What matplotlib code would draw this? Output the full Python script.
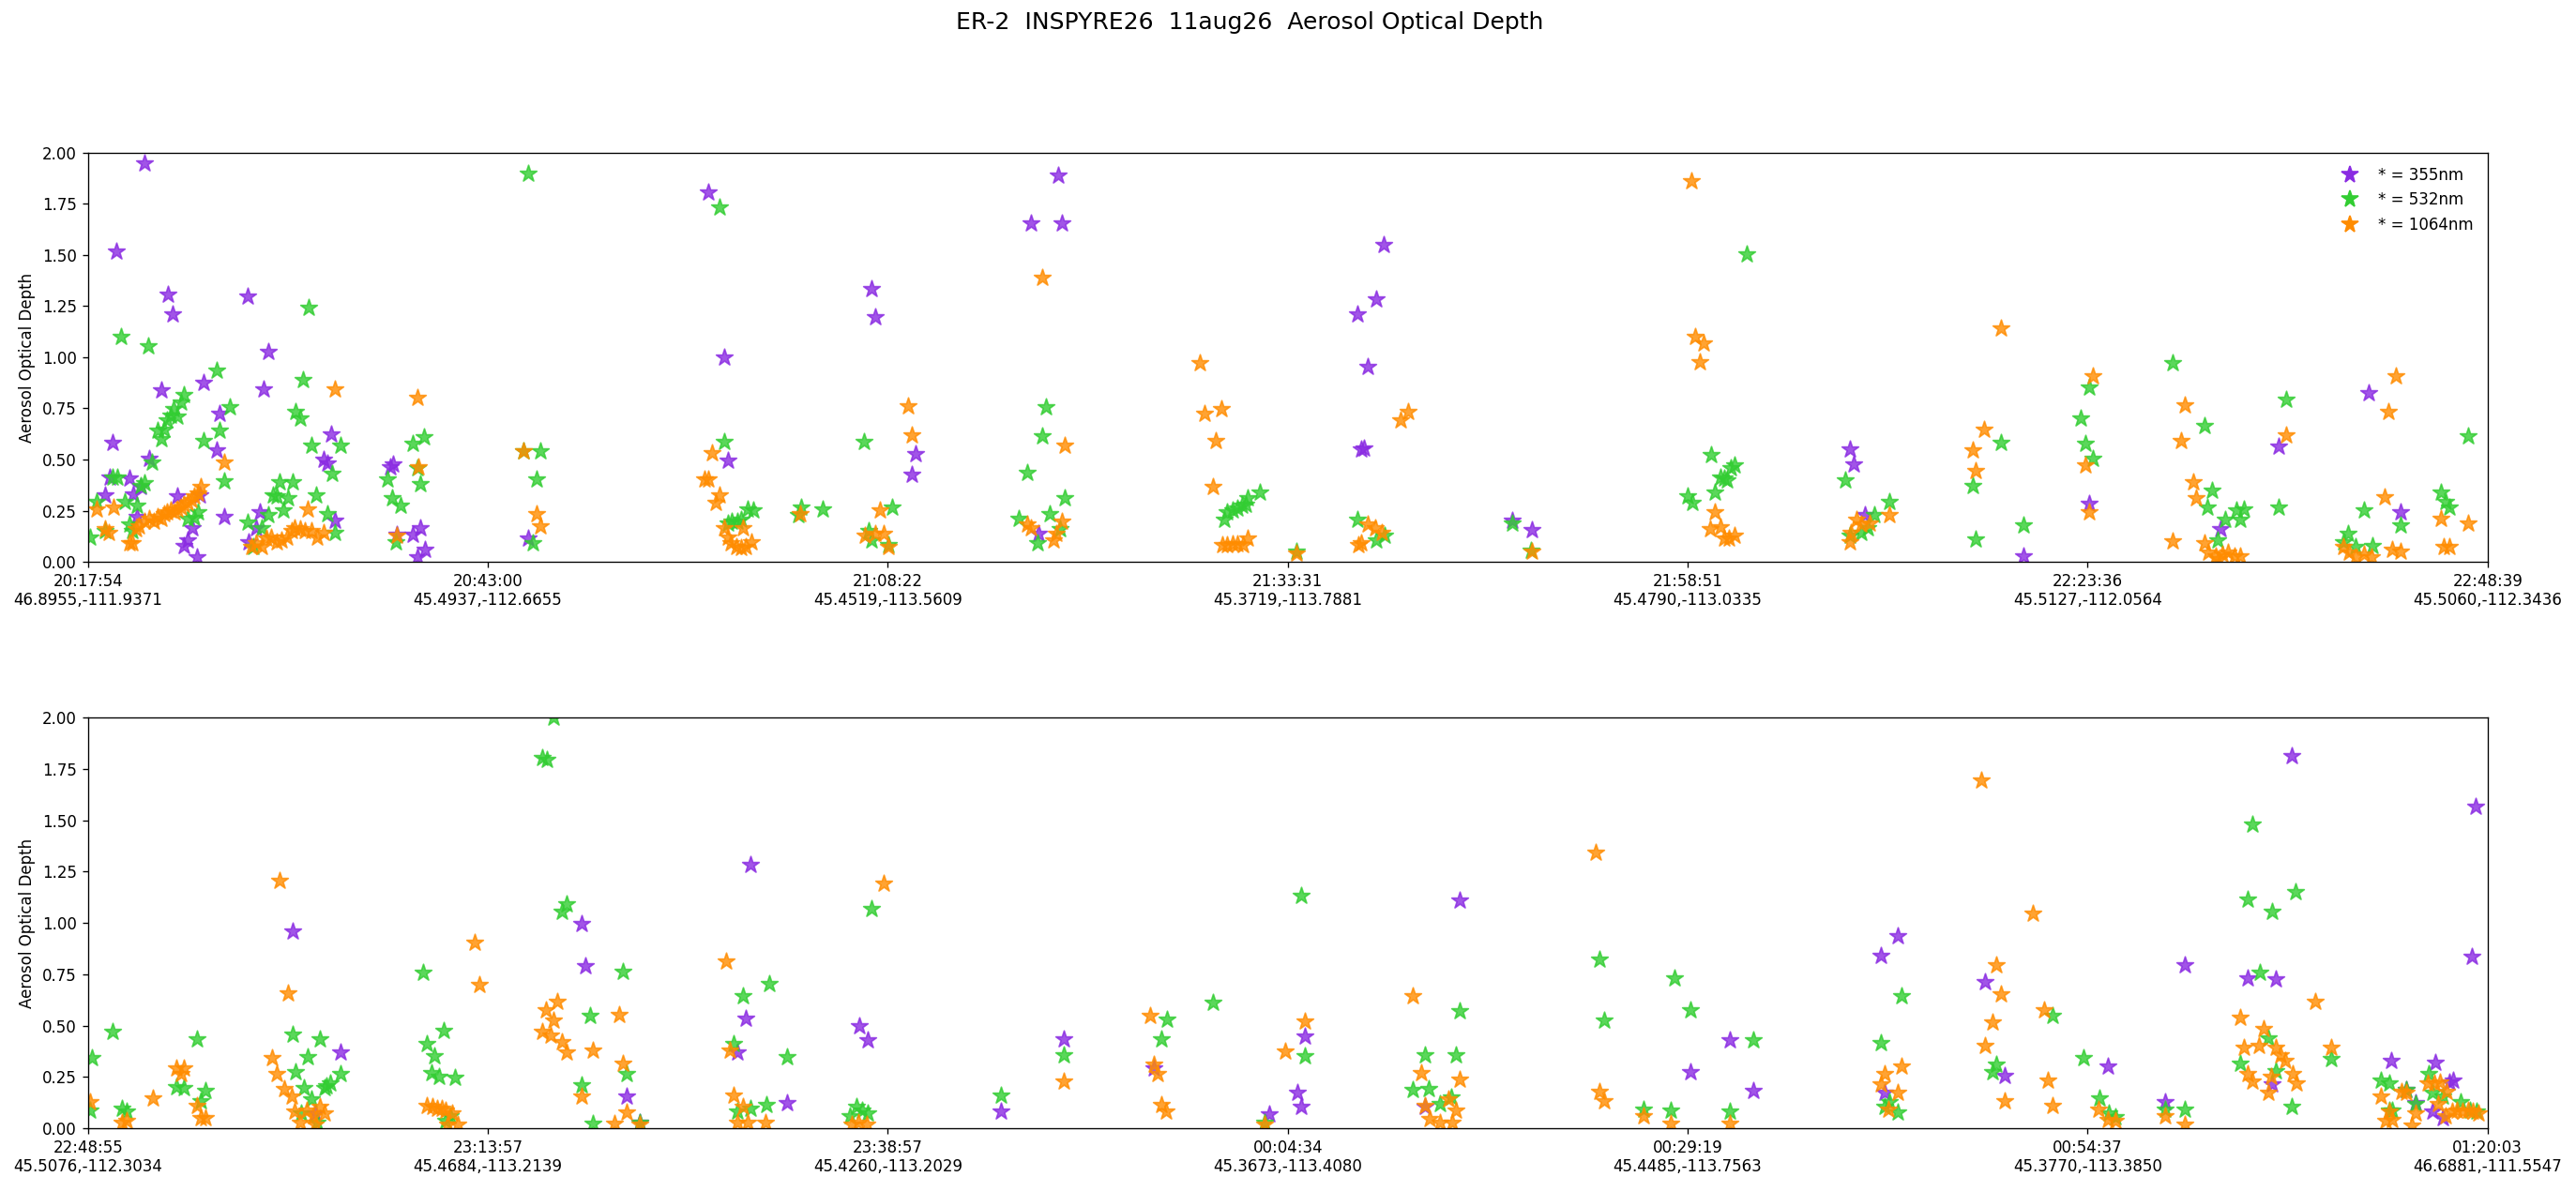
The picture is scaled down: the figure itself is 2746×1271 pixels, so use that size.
import matplotlib
matplotlib.use("Agg")
import matplotlib.pyplot as plt
from matplotlib.lines import Line2D
from matplotlib.ticker import FormatStrFormatter
import numpy as np

# ---------------- data ----------------
title = "ER-2  INSPYRE26  11aug26  Aerosol Optical Depth"
ylabel = "Aerosol Optical Depth"
wavelengths = ["355", "532", "1064"]
legend_labels = ["* = 355nm", "* = 532nm", "* = 1064nm"]
series_colors = ["#8A2BE2", "#32CD32", "#FF8C00"]

# x = record position along the flight segment (ticks every 100 records)
tick_records = [0, 100, 200, 300, 400, 500, 600]
top_tick_labels = [
    "20:17:54\n46.8955,-111.9371", "20:43:00\n45.4937,-112.6655",
    "21:08:22\n45.4519,-113.5609", "21:33:31\n45.3719,-113.7881",
    "21:58:51\n45.4790,-113.0335", "22:23:36\n45.5127,-112.0564",
    "22:48:39\n45.5060,-112.3436"]
bottom_tick_labels = [
    "22:48:55\n45.5076,-112.3034", "23:13:57\n45.4684,-113.2139",
    "23:38:57\n45.4260,-113.2029", "00:04:34\n45.3673,-113.4080",
    "00:29:19\n45.4485,-113.7563", "00:54:37\n45.3770,-113.3850",
    "01:20:03\n46.6881,-111.5547"]
aod_ticks = [0.0, 0.25, 0.5, 0.75, 1.0, 1.25, 1.5, 1.75, 2.0]

# (record, AOD) pairs
top_355 = [(14.2,1.951),(7.2,1.519),(20.1,1.308),(21.3,1.212),(40.0,1.300),(45.0,1.027),(44.0,0.842),(18.3,0.839),
    (29.0,0.877),(32.9,0.727),(6.3,0.582),(32.1,0.544),(15.3,0.506),(60.8,0.625),(59.0,0.500),(59.9,0.480),(5.4,0.411),
    (10.3,0.406),(4.3,0.327),(11.4,0.332),(13.2,0.365),(22.3,0.319),(28.1,0.327),(34.2,0.220),(12.2,0.220),(26.2,0.167),
    (25.0,0.105),(24.0,0.078),(27.3,0.024),(43.0,0.243),(42.1,0.167),(40.2,0.098),(61.8,0.200),(75.5,0.464),(76.2,0.475),
    (77.3,0.133),(81.2,0.133),(83.2,0.167),(84.3,0.060),(82.3,0.021),
    (110.0,0.113),(155.0,1.809),(159.0,1.002),(160.0,0.495),(196.0,1.334),(196.8,1.195),(207.0,0.526),(206.0,0.426),
    (242.5,1.890),(235.9,1.656),(243.5,1.656),(237.6,0.139),(324.1,1.552),(322.2,1.285),(317.4,1.213),(320.1,0.956),
    (318.4,0.549),(319.1,0.556),(356.1,0.200),(361.0,0.154),
    (440.6,0.549),(441.5,0.475),(444.2,0.228),(483.9,0.029),
    (500.4,0.284),(533.1,0.159),(547.7,0.564),(570.3,0.824),(578.2,0.243)]

top_532 = [(8.2,1.102),(15.2,1.053),(55.1,1.244),(32.1,0.934),(53.9,0.888),(24.0,0.816),(23.3,0.778),(21.4,0.747),
    (20.8,0.717),(22.3,0.709),(19.9,0.694),(35.4,0.755),(51.9,0.735),(53.0,0.704),(17.4,0.640),(19.1,0.648),(18.3,0.602),
    (32.9,0.640),(29.0,0.590),(55.9,0.571),(63.1,0.567),(16.0,0.487),(61.0,0.429),(34.2,0.396),(6.1,0.411),(7.4,0.411),
    (14.1,0.385),(13.2,0.373),(48.0,0.388),(51.1,0.388),(46.3,0.327),(47.2,0.322),(50.1,0.312),(57.0,0.327),(48.8,0.254),
    (60.0,0.235),(2.3,0.292),(9.2,0.292),(12.2,0.277),(27.5,0.243),(25.0,0.212),(26.5,0.215),(40.0,0.194),(45.1,0.231),
    (43.4,0.167),(10.3,0.185),(11.1,0.151),(0.5,0.118),(4.4,0.151),(61.8,0.144),(75.0,0.403),(76.0,0.312),(78.1,0.273),
    (81.2,0.579),(84.0,0.610),(82.3,0.457),(83.2,0.380),(77.1,0.098),(41.3,0.075),
    (110.1,1.901),(113.1,0.541),(108.9,0.541),(112.2,0.403),(111.2,0.090),(158.0,1.733),(159.0,0.587),(160.0,0.189),
    (161.0,0.197),(162.5,0.197),(163.3,0.205),(165.0,0.258),(166.3,0.251),(178.4,0.266),(177.6,0.228),(183.8,0.258),
    (194.1,0.587),(201.0,0.266),(195.2,0.151),(196.0,0.105),(200.2,0.083),(232.8,0.212),(234.9,0.434),
    (239.5,0.758),(238.5,0.613),(244.3,0.312),(240.4,0.235),(237.4,0.090),(243.1,0.159),(284.1,0.205),(284.9,0.243),
    (286.2,0.254),(287.3,0.261),(288.5,0.273),(289.4,0.281),(290.0,0.312),(293.1,0.338),(302.1,0.052),(317.4,0.205),
    (322.2,0.105),(324.3,0.128),(356.1,0.189),
    (360.9,0.055),(414.8,1.503),(405.9,0.521),(411.6,0.472),(410.7,0.457),(408.1,0.411),(409.1,0.408),(409.9,0.399),
    (406.8,0.338),(400.0,0.322),(401.1,0.289),(439.4,0.399),(450.5,0.292),(446.6,0.228),(445.1,0.167),(440.5,0.128),
    (443.4,0.144),(471.2,0.373),(478.3,0.584),(472.1,0.108),(483.9,0.177),
    (500.4,0.854),(498.2,0.704),(499.5,0.576),(501.3,0.506),(521.3,0.972),(529.3,0.666),(531.1,0.350),(530.0,0.266),
    (534.4,0.205),(537.2,0.251),(539.0,0.258),(538.1,0.205),(532.4,0.105),(549.6,0.793),(547.7,0.266),(569.0,0.251),
    (565.0,0.136),(563.9,0.098),(567.0,0.075),(571.1,0.078),(578.2,0.177),(588.2,0.338),(589.5,0.292),(590.4,0.266),
    (595.2,0.613)]

top_1064 = [(2.2,0.258),(6.4,0.266),(4.4,0.159),(5.3,0.144),(10.3,0.090),(11.1,0.090),(12.0,0.159),(12.8,0.174),
    (14.1,0.197),(15.3,0.212),(16.4,0.197),(17.4,0.220),(18.3,0.212),(19.1,0.235),(19.9,0.243),(20.8,0.251),(21.6,0.243),
    (22.4,0.258),(23.3,0.266),(24.1,0.281),(25.0,0.289),(25.8,0.304),(26.6,0.319),(27.5,0.335),(28.3,0.365),(34.2,0.487),
    (61.8,0.846),(82.3,0.801),(82.7,0.464),(54.9,0.258),(77.3,0.128),(40.9,0.075),(42.1,0.090),(43.4,0.075),(44.6,0.113),
    (45.9,0.121),(47.2,0.098),(48.4,0.105),(49.7,0.121),(50.9,0.151),(51.8,0.166),(53.0,0.159),(54.3,0.151),(55.9,0.151),
    (57.2,0.121),(58.9,0.144),
    (108.9,0.541),(112.2,0.235),(113.1,0.174),(205.0,0.762),(206.0,0.617),(156.0,0.533),(154.1,0.403),(155.0,0.403),
    (157.9,0.327),(157.0,0.289),(159.1,0.167),(160.0,0.121),(160.8,0.090),(162.1,0.075),(163.3,0.067),(164.6,0.075),
    (165.8,0.098),(163.7,0.167),(178.2,0.235),(198.1,0.251),(194.3,0.128),(196.8,0.136),(198.9,0.136),(200.2,0.075),
    (234.9,0.182),
    (238.5,1.392),(244.3,0.567),(235.9,0.167),(243.5,0.197),(242.2,0.136),(241.4,0.105),(278.1,0.972),(279.2,0.727),
    (283.3,0.747),(282.0,0.590),(281.2,0.365),(283.7,0.083),(284.9,0.083),(286.2,0.087),(287.4,0.087),(288.7,0.083),
    (290.0,0.113),(302.1,0.041),(328.1,0.694),(330.2,0.732),(318.4,0.090),(320.1,0.185),(321.8,0.167),(323.5,0.144),
    (317.6,0.083),(361.0,0.052),
    (400.9,1.862),(401.9,1.102),(404.0,1.068),(403.0,0.979),(406.8,0.243),(405.7,0.159),(408.1,0.170),(409.1,0.113),
    (410.3,0.113),(411.7,0.128),(442.1,0.205),(443.4,0.182),(445.5,0.189),(440.9,0.144),(440.5,0.098),(450.4,0.228),
    (474.2,0.648),(471.3,0.544),(472.1,0.445),(478.3,1.144),
    (501.3,0.908),(499.5,0.472),(500.4,0.243),(524.3,0.765),(523.4,0.590),(526.3,0.388),(527.1,0.312),(521.3,0.102),
    (529.1,0.090),(530.2,0.044),(532.0,0.029),(533.7,0.037),(535.0,0.044),(536.8,0.029),(538.1,0.026),(532.8,0.014),
    (549.6,0.617),(577.1,0.908),(575.2,0.735),(574.2,0.316),(576.2,0.060),(578.2,0.052),(563.9,0.075),(565.3,0.044),
    (567.0,0.021),(569.2,0.037),(571.0,0.021),(588.2,0.212),(589.1,0.075),(590.4,0.072),(595.2,0.189)]

bottom_355 = [(51.1,0.958),(63.1,0.368),(56.8,0.073),
    (123.5,0.996),(124.5,0.790),(134.7,0.153),(138.0,0.027),(165.6,1.283),(164.6,0.534),(162.5,0.371),(174.9,0.122),
    (192.9,0.496),(194.9,0.429),(228.3,0.084),
    (243.9,0.436),(266.5,0.294),(295.4,0.069),(302.4,0.175),(303.4,0.104),(304.4,0.447),(343.1,1.111),(334.2,0.104),
    (410.6,0.427),(400.7,0.275),(416.4,0.183),(448.3,0.839),(452.6,0.938),(449.3,0.172),(474.4,0.714),(479.3,0.256),
    (505.0,0.302),(519.4,0.127),(524.3,0.793),(551.1,1.812),(540.0,0.729),(547.0,0.726),(546.0,0.214),(576.0,0.328),
    (579.7,0.188),(582.1,0.122),(587.0,0.320),(590.5,0.226),(591.4,0.233),(586.3,0.084),(588.9,0.050),(597.0,1.564),
    (596.1,0.836)]

bottom_532 = [(1.1,0.343),(6.3,0.470),(0.5,0.088),(8.6,0.096),(9.7,0.081),(22.2,0.203),(24.1,0.198),(27.2,0.432),
    (29.3,0.183),(28.3,0.134),(51.1,0.458),(58.0,0.435),(54.9,0.348),(51.9,0.272),(54.1,0.198),(55.9,0.142),(59.1,0.198),
    (60.5,0.218),(63.1,0.264),(59.7,0.207),(53.4,0.073),(57.2,0.027),(83.8,0.757),(84.7,0.412),(88.9,0.477),(86.7,0.351),
    (85.9,0.268),(87.8,0.249),(91.7,0.246),(90.7,0.058),(89.4,0.035),
    (113.7,1.805),(114.7,1.793),(116.4,2.0),(119.6,1.091),(118.6,1.053),(125.5,0.549),(133.8,0.764),(123.5,0.211),
    (134.8,0.267),(126.3,0.024),(138.0,0.027),(163.7,0.645),(170.4,0.702),(161.5,0.413),(174.9,0.348),(162.5,0.081),
    (165.7,0.096),(169.6,0.114),(196.0,1.069),(192.2,0.104),(193.5,0.088),(195.0,0.073),(190.5,0.058),(228.3,0.160),
    (243.9,0.355),(269.7,0.531),(268.4,0.435),(281.2,0.612),(303.4,1.133),(304.4,0.351),(294.1,0.027),(334.2,0.355),
    (342.1,0.355),(343.1,0.569),(331.3,0.185),(335.2,0.192),(338.1,0.119),(340.9,0.150),
    (377.9,0.821),(379.2,0.523),(396.7,0.729),(400.7,0.577),(416.4,0.427),(389.0,0.093),(395.8,0.088),(410.6,0.084),
    (448.3,0.416),(453.5,0.645),(449.3,0.104),(450.5,0.127),(452.6,0.076),(476.1,0.272),(477.1,0.310),
    (491.2,0.546),(498.9,0.343),(502.9,0.146),(505.2,0.073),(507.0,0.055),(519.4,0.092),(524.3,0.093),(541.2,1.481),
    (540.0,1.114),(551.9,1.152),(546.1,1.053),(543.1,0.760),(545.1,0.439),(538.1,0.317),(547.0,0.279),(551.1,0.104),
    (560.9,0.336),(573.3,0.233),(575.3,0.218),(575.3,0.088),(576.2,0.088),(579.7,0.188),(582.1,0.119),(585.2,0.267),
    (586.3,0.172),(588.9,0.157),(593.3,0.127),(595.5,0.088),(597.2,0.081)]

bottom_1064 = [(0.5,0.127),(8.6,0.027),(9.7,0.035),(16.3,0.145),(22.2,0.294),(24.1,0.294),(23.3,0.264),(27.3,0.111),
    (28.3,0.050),(29.3,0.050),(48.0,1.205),(50.1,0.656),(46.1,0.343),(47.2,0.267),(49.1,0.191),(50.9,0.157),(51.8,0.081),
    (53.0,0.027),(54.7,0.088),(56.4,0.058),(58.0,0.104),(59.3,0.073),(56.8,0.020),(96.8,0.905),(97.8,0.699),(84.8,0.111),
    (86.1,0.104),(87.4,0.096),(88.4,0.096),(89.4,0.088),(91.1,0.073),(89.9,0.020),(92.4,0.020),
    (117.4,0.615),(114.6,0.577),(116.4,0.526),(113.5,0.470),(115.6,0.450),(118.5,0.420),(119.6,0.371),(126.3,0.381),
    (132.9,0.554),(133.8,0.317),(123.5,0.153),(134.8,0.076),(131.7,0.024),(138.0,0.020),(159.6,0.813),(160.4,0.378),
    (161.5,0.160),(163.7,0.104),(162.5,0.027),(165.0,0.027),(169.4,0.027),(198.9,1.194),(191.0,0.020),(192.6,0.027),
    (194.7,0.020),
    (243.9,0.230),(265.7,0.549),(266.5,0.310),(267.5,0.264),(268.4,0.114),(269.6,0.084),(294.1,0.020),(299.4,0.374),
    (304.4,0.519),(331.3,0.642),(333.3,0.268),(334.2,0.111),(335.4,0.046),(338.1,0.027),(340.2,0.142),(341.2,0.027),
    (342.1,0.085),(343.1,0.236),
    (377.1,1.344),(377.9,0.180),(379.2,0.134),(389.0,0.061),(395.8,0.024),(410.6,0.024),(448.3,0.214),(449.3,0.267),
    (453.5,0.302),(452.6,0.175),(450.1,0.092),(473.3,1.693),(477.1,0.795),(478.3,0.653),(476.2,0.516),(474.4,0.401),
    (479.3,0.134),
    (486.2,1.045),(489.0,0.577),(490.1,0.233),(491.2,0.111),(502.8,0.092),(505.0,0.043),(507.0,0.035),(519.4,0.058),
    (524.3,0.020),(538.1,0.539),(544.0,0.485),(539.1,0.394),(542.9,0.401),(547.0,0.394),(548.2,0.355),(549.3,0.328),
    (540.0,0.264),(541.1,0.229),(545.8,0.249),(545.1,0.175),(551.2,0.267),(552.1,0.221),(556.9,0.615),(560.9,0.394),
    (573.3,0.153),(575.3,0.081),(574.5,0.035),(576.2,0.043),(578.4,0.180),(579.7,0.172),(582.1,0.073),(581.0,0.012),
    (585.0,0.218),(586.7,0.218),(588.0,0.226),(587.6,0.119),(589.8,0.180),(589.4,0.061),(591.1,0.081),(592.4,0.088),
    (593.7,0.081),(595.1,0.088),(596.4,0.081),(597.7,0.073)]

# ---------------- figure ----------------
DPI = 120
fig = plt.figure(figsize=(2746 / DPI, 1271 / DPI), dpi=DPI)
ax_top = fig.add_axes([0.0341, 0.5287, 0.9316, 0.3431])
ax_bot = fig.add_axes([0.0341, 0.0535, 0.9316, 0.3446])

MS = 125
panels = [(ax_top, [top_355, top_532, top_1064], top_tick_labels),
          (ax_bot, [bottom_355, bottom_532, bottom_1064], bottom_tick_labels)]
for ax, series, labels in panels:
    for pts, col in zip(series, series_colors):
        arr = np.array(pts)
        ax.scatter(arr[:, 0], arr[:, 1], marker="*", s=MS, color=col, alpha=0.8)
    ax.set_xlim(tick_records[0], tick_records[-1])
    ax.set_ylim(aod_ticks[0], aod_ticks[-1])
    ax.set_xticks(tick_records)
    ax.set_xticklabels(labels)
    ax.set_yticks(aod_ticks)
    ax.yaxis.set_major_formatter(FormatStrFormatter("%.2f"))
    ax.set_ylabel(ylabel)

handles = [Line2D([], [], marker="*", linestyle="none", color=c, markersize=np.sqrt(MS))
           for c in series_colors]
ax_top.legend(handles, legend_labels, loc="upper right", frameon=False)

fig.text(0.485, 1 - 24.5 / 1271, title, ha="center", va="center", fontsize=15)

fig.savefig("out.png", dpi=DPI)
